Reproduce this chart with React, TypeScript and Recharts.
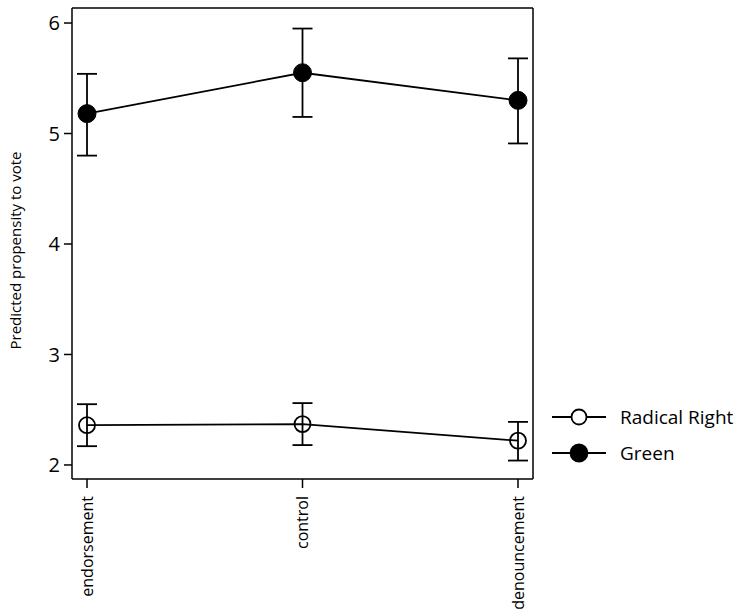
import React from 'react';
import { LineChart, Line, XAxis, YAxis, ErrorBar, Legend } from 'recharts';

// Categories and predicted values (with 95% CI bounds)
const conditions = ['endorsement', 'control', 'denouncement'];
const radicalRight = [2.36, 2.37, 2.22];
const radicalRightLow = [2.17, 2.18, 2.04];
const radicalRightHigh = [2.55, 2.56, 2.39];
const green = [5.18, 5.55, 5.3];
const greenLow = [4.8, 5.15, 4.91];
const greenHigh = [5.54, 5.95, 5.68];
const yTicks = [2, 3, 4, 5, 6];

const FONT = '"Open Sans", sans-serif';
const Y_DOMAIN = [1.873, 6.136];

// Chart-friendly rows; error bars take [down, up] offsets from the value
const data = conditions.map((name, i) => ({
  name,
  rr: radicalRight[i],
  rrErr: [radicalRight[i] - radicalRightLow[i], radicalRightHigh[i] - radicalRight[i]],
  green: green[i],
  greenErr: [green[i] - greenLow[i], greenHigh[i] - green[i]],
}));

const HollowDot = (props: any) => {
  const { cx, cy, index } = props;
  return <circle key={`rr-${index}`} cx={cx} cy={cy} r={8} fill="none" stroke="#000" strokeWidth={1.8} />;
};

const FilledDot = (props: any) => {
  const { cx, cy, index } = props;
  return <circle key={`g-${index}`} cx={cx} cy={cy} r={9} fill="#000" stroke="#000" />;
};

const XTick = (props: any) => {
  const { x, y, payload } = props;
  return (
    <text
      x={x}
      y={y}
      transform={`rotate(-90, ${x}, ${y})`}
      textAnchor="end"
      dy="0.35em"
      fontSize={16}
      fontFamily={FONT}
      fill="#000"
    >
      {payload.value}
    </text>
  );
};

// y axis title, rotated and centred a bit below the plot middle like the original
const YTitle = (props: any) => {
  const { viewBox } = props;
  const x = 16;
  const y = viewBox.y + viewBox.height / 2 + 7;
  return (
    <text
      x={x}
      y={y}
      transform={`rotate(-90, ${x}, ${y})`}
      textAnchor="middle"
      dy="0.35em"
      fontSize={15}
      fontFamily={FONT}
      fill="#000"
    >
      Predicted propensity to vote
    </text>
  );
};

const LegendBox = () => (
  <svg width={200} height={80}>
    {[
      { label: 'Radical Right', filled: false },
      { label: 'Green', filled: true },
    ].map((item, i) => {
      const cy = 17 + i * 36;
      return (
        <g key={item.label}>
          <line x1={2} x2={56} y1={cy} y2={cy} stroke="#000" strokeWidth={1.8} />
          <circle
            cx={29}
            cy={cy}
            r={item.filled ? 8.5 : 7.5}
            fill={item.filled ? '#000' : '#fff'}
            stroke="#000"
            strokeWidth={1.8}
          />
          <text x={70} y={cy} dy="0.35em" fontSize={19} fontFamily={FONT} fill="#000">
            {item.label}
          </text>
        </g>
      );
    })}
  </svg>
);

export default function App() {
  return (
    <div style={{ position: 'absolute', left: 0, top: 0, background: '#fff' }}>
      <LineChart
        width={747}
        height={615}
        data={data}
        margin={{ top: 7, right: 213, bottom: 0, left: 0 }}
      >
        <XAxis
          dataKey="name"
          height={136}
          padding={{ left: 15, right: 15 }}
          axisLine={{ stroke: '#000', strokeWidth: 1.5 }}
          tickLine={{ stroke: '#000', strokeWidth: 1.5 }}
          tickSize={9}
          tickMargin={8}
          tick={<XTick />}
          interval={0}
        />
        <XAxis
          xAxisId="top"
          orientation="top"
          dataKey="name"
          height={1}
          tick={false}
          tickLine={false}
          axisLine={{ stroke: '#000', strokeWidth: 1.5 }}
        />
        <YAxis
          width={72}
          domain={Y_DOMAIN}
          ticks={yTicks}
          allowDataOverflow
          axisLine={{ stroke: '#000', strokeWidth: 1.5 }}
          tickLine={{ stroke: '#000', strokeWidth: 1.5 }}
          tickSize={8}
          tickMargin={4}
          tick={{ fill: '#000', fontSize: 20, fontFamily: FONT }}
          label={<YTitle />}
        />
        <YAxis
          yAxisId="right"
          orientation="right"
          width={1}
          domain={Y_DOMAIN}
          tick={false}
          tickLine={false}
          axisLine={{ stroke: '#000', strokeWidth: 1.5 }}
        />
        <Line
          dataKey="rr"
          name="Radical Right"
          type="linear"
          stroke="#000"
          strokeWidth={1.8}
          dot={<HollowDot />}
          activeDot={false}
          isAnimationActive={false}
        >
          <ErrorBar dataKey="rrErr" width={10} stroke="#000" strokeWidth={1.8} isAnimationActive={false} />
        </Line>
        <Line
          dataKey="green"
          name="Green"
          type="linear"
          stroke="#000"
          strokeWidth={1.8}
          dot={<FilledDot />}
          activeDot={false}
          isAnimationActive={false}
        >
          <ErrorBar dataKey="greenErr" width={10} stroke="#000" strokeWidth={1.8} isAnimationActive={false} />
        </Line>
        <Legend
          layout="horizontal"
          verticalAlign="middle"
          align="center"
          content={<LegendBox />}
          wrapperStyle={{ position: 'absolute', left: 550, top: 400, width: 200, height: 80 }}
        />
      </LineChart>
    </div>
  );
}
